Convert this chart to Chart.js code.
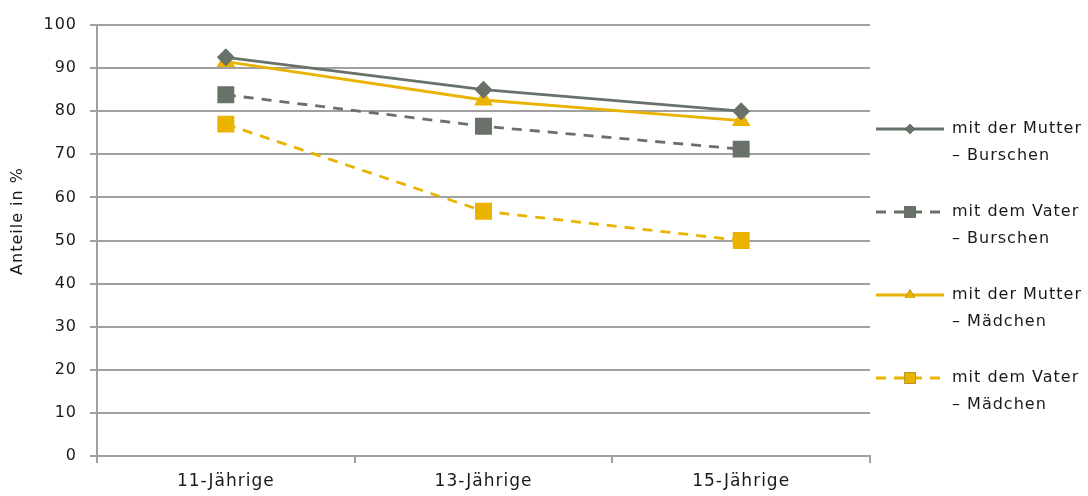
<!DOCTYPE html>
<html>
<head>
<meta charset="utf-8">
<script src="https://cdn.jsdelivr.net/npm/chart.js@4/dist/chart.umd.min.js"></script>
<style>
  body { margin: 0; background: #fff; }
</style>
</head>
<body>
<canvas id="lineChart" width="1088" height="496"></canvas>
<script>
const categories = ["11-Jährige", "13-Jährige", "15-Jährige"];
const seriesLabels = [
  ["mit der Mutter", "– Burschen"],
  ["mit dem Vater", "– Burschen"],
  ["mit der Mutter", "– Mädchen"],
  ["mit dem Vater", "– Mädchen"],
];
const yTitle = "Anteile in %";
const mutterBurschen = [92.5, 85.0, 80.0];
const vaterBurschen = [83.8, 76.5, 71.2];
const mutterMaedchen = [91.5, 82.6, 77.8];
const vaterMaedchen = [77.0, 56.8, 50.0];
const yTicks = [0, 10, 20, 30, 40, 50, 60, 70, 80, 90, 100];

const GREY = "#687268";
const YELLOW = "#e9b300";
const FONT = "DejaVu Sans";
const TEXT = "#1a1a1a";

// a bit of tracking, like the original typeface
const spacing = {
  id: "spacing",
  beforeDraw(chart) {
    chart.ctx.letterSpacing = "1px";
  },
};

// legend drawn by hand, two lines per entry, plus the rotated y title
const sideLegend = {
  id: "sideLegend",
  afterDraw(chart) {
    const ctx = chart.ctx;
    const left = chart.chartArea.right + 6;
    ctx.save();
    chart.data.datasets.forEach((ds, i) => {
      const y = 129 + i * 83;
      ctx.strokeStyle = ds.borderColor;
      ctx.lineWidth = ds.borderWidth;
      ctx.setLineDash(ds.borderDash || []);
      ctx.beginPath();
      ctx.moveTo(left, y);
      ctx.lineTo(left + 68, y);
      ctx.stroke();
      ctx.setLineDash([]);
      Chart.helpers.drawPoint(ctx, {
        pointStyle: ds.pointStyle,
        radius: ds.legendRadius,
        borderWidth: 0,
      }, left + 34, y);
      ctx.fillStyle = ds.backgroundColor;
      ctx.fill();
      ctx.fillStyle = TEXT;
      ctx.font = `16px "${FONT}"`;
      ctx.textBaseline = "middle";
      ctx.fillText(seriesLabels[i][0], left + 76, y);
      ctx.fillText(seriesLabels[i][1], left + 76, y + 27);
    });

    ctx.translate(18, 221);
    ctx.rotate(-Math.PI / 2);
    ctx.textAlign = "center";
    ctx.textBaseline = "middle";
    ctx.font = `16px "${FONT}"`;
    ctx.fillStyle = TEXT;
    ctx.fillText(yTitle, 0, 0);
    ctx.restore();
  },
};

const el = document.getElementById("lineChart");
new Chart(el.getContext("2d"), {
  type: "line",
  data: {
    labels: categories,
    datasets: [
      {
        data: mutterBurschen,
        borderColor: GREY,
        backgroundColor: GREY,
        borderWidth: 2.8,
        pointStyle: "rectRot",
        pointRadius: 7,
        legendRadius: 5,
      },
      {
        data: vaterBurschen,
        borderColor: GREY,
        backgroundColor: GREY,
        borderWidth: 2.8,
        borderDash: [10, 8],
        pointStyle: "rect",
        pointRadius: 10,
        legendRadius: 8,
      },
      {
        data: mutterMaedchen,
        borderColor: YELLOW,
        backgroundColor: YELLOW,
        borderWidth: 2.8,
        pointStyle: "triangle",
        pointRadius: 8,
        legendRadius: 6,
      },
      {
        data: vaterMaedchen,
        borderColor: YELLOW,
        backgroundColor: YELLOW,
        borderWidth: 2.8,
        borderDash: [10, 8],
        pointStyle: "rect",
        pointRadius: 10,
        legendRadius: 8,
      },
    ],
  },
  options: {
    responsive: false,
    animation: false,
    layout: { padding: { top: 25, right: 218, bottom: 0, left: 0 } },
    elements: { line: { tension: 0 }, point: { borderWidth: 0 } },
    plugins: {
      legend: { display: false },
      tooltip: { enabled: false },
    },
    scales: {
      x: {
        offset: true,
        afterFit(axis) { axis.height = 40; },
        grid: {
          offset: true,
          drawOnChartArea: false,
          color: "#a0a0a0",
          lineWidth: 2,
          tickLength: 7,
        },
        border: { color: "#a0a0a0", width: 2 },
        ticks: {
          color: TEXT,
          font: { family: FONT, size: 17 },
          padding: 8,
          maxRotation: 0,
        },
      },
      y: {
        min: 0,
        max: 100,
        afterFit(axis) { axis.width = 97; },
        afterBuildTicks(axis) {
          axis.ticks = yTicks.map((v) => ({ value: v }));
        },
        grid: { color: "#a0a0a0", lineWidth: 2, tickLength: 7 },
        border: { color: "#a0a0a0", width: 2 },
        ticks: {
          color: TEXT,
          font: { family: FONT, size: 16 },
          padding: 13,
        },
      },
    },
  },
  plugins: [spacing, sideLegend],
});
</script>
</body>
</html>
